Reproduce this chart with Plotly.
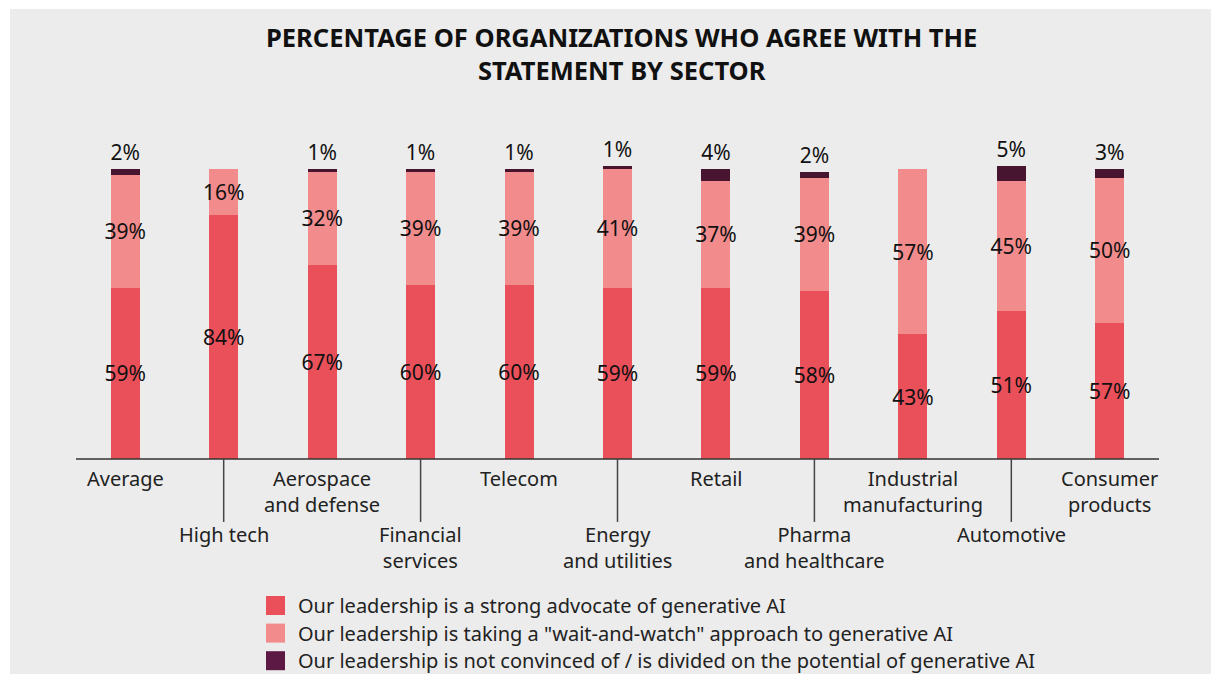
import plotly.graph_objects as go

categories = ["Average", "High tech", "Aerospace<br>and defense", "Financial<br>services",
              "Telecom", "Energy<br>and utilities", "Retail", "Pharma<br>and healthcare",
              "Industrial<br>manufacturing", "Automotive", "Consumer<br>products"]
advocate = [59, 84, 67, 60, 60, 59, 59, 58, 43, 51, 47]
advocate_labels = ["59%", "84%", "67%", "60%", "60%", "59%", "59%", "58%", "43%", "51%", "57%"]
wait_watch = [39, 16, 32, 39, 39, 41, 37, 39, 57, 45, 50]
not_convinced = [2, 0, 1, 1, 1, 1, 4, 2, 0, 5, 3]

series_names = [
    "Our leadership is a strong advocate of generative AI",
    'Our leadership is taking a "wait-and-watch" approach to generative AI',
    "Our leadership is not convinced of / is divided on the potential of generative AI",
]
bar_colors = ["#EA505A", "#F28C8C", "#47152F"]
legend_colors = ["#EA505A", "#F28C8C", "#5C1944"]

FONT = "Noto Sans"
W, H = 1211, 674
ML, MR, MT, MB = 76, 52, 140, 99
PW, PH = W - ML - MR, H - MT - MB


def px_x(p):
    return (p - ML) / PW


def px_y(p):
    return (H - MB - p) / PH


x = list(range(len(categories)))

fig = go.Figure()
fig.add_trace(go.Bar(
    x=x, y=advocate, name=series_names[0], marker_color=bar_colors[0],
    text=advocate_labels, textposition="inside", insidetextanchor="middle",
    textfont=dict(family=FONT, size=21, color="#111111"), showlegend=False,
))
fig.add_trace(go.Bar(
    x=x, y=wait_watch, name=series_names[1], marker_color=bar_colors[1],
    text=[f"{v}%" for v in wait_watch], textposition="inside", insidetextanchor="middle",
    textfont=dict(family=FONT, size=21, color="#111111"), showlegend=False,
))
fig.add_trace(go.Bar(
    x=x, y=not_convinced, name=series_names[2], marker_color=bar_colors[2],
    text=[f"{v}%" if v > 0 else "" for v in not_convinced], textposition="outside",
    textfont=dict(family=FONT, size=21, color="#111111"), showlegend=False,
))
fig.update_traces(width=0.295, marker_line_width=0, constraintext="none", cliponaxis=False,
                  textangle=0)

shapes = []
# thin white frame strips
shapes.append(dict(type="rect", xref="paper", yref="paper", x0=px_x(0), x1=px_x(10),
                   y0=px_y(H + 20), y1=px_y(0), fillcolor="white", line_width=0, layer="above"))
shapes.append(dict(type="rect", xref="paper", yref="paper", x0=px_x(0), x1=px_x(W + 20),
                   y0=px_y(9), y1=px_y(0), fillcolor="white", line_width=0, layer="above"))
# baseline
shapes.append(dict(type="line", xref="x", yref="y", x0=-0.5, x1=10.5, y0=0, y1=0,
                   line=dict(color="#333333", width=1.5), layer="above"))

annotations = []
for i, c in enumerate(categories):
    if i % 2 == 1:
        shapes.append(dict(type="line", xref="x", yref="y", x0=i, x1=i, y0=0, y1=-21.7,
                           line=dict(color="#444444", width=1.5)))
        ytop = -20.7
    else:
        ytop = -1.3
    annotations.append(dict(x=i, y=ytop, xref="x", yref="y", text=c, showarrow=False,
                            yanchor="top", xanchor="center", align="center",
                            font=dict(family=FONT, size=20, color="#222222")))

# title
annotations.append(dict(x=px_x(621), y=px_y(54), xref="paper", yref="paper",
                        text="<b>PERCENTAGE OF ORGANIZATIONS WHO AGREE WITH THE<br>STATEMENT BY SECTOR</b>",
                        showarrow=False, xanchor="center", yanchor="middle", align="center",
                        font=dict(family=FONT, size=25.5, color="#111111")))

# legend
for k, (nm, col) in enumerate(zip(series_names, legend_colors)):
    cy = 605.5 + 27.6 * k
    shapes.append(dict(type="rect", xref="paper", yref="paper", x0=px_x(266), x1=px_x(285),
                       y0=px_y(cy + 9.5), y1=px_y(cy - 9.5), fillcolor=col, line_width=0))
    annotations.append(dict(x=px_x(296), y=px_y(cy), xref="paper", yref="paper", text=nm,
                            showarrow=False, xanchor="left", yanchor="middle",
                            font=dict(family=FONT, size=20, color="#222222")))

fig.update_layout(
    width=W, height=H, barmode="stack",
    margin=dict(l=ML, r=MR, t=MT, b=MB, autoexpand=False),
    paper_bgcolor="#ECECEC", plot_bgcolor="rgba(0,0,0,0)",
    xaxis=dict(range=[-0.5, 10.5], visible=False, fixedrange=True),
    yaxis=dict(range=[-40, 110], visible=False, fixedrange=True),
    shapes=shapes, annotations=annotations, showlegend=False,
    font=dict(family=FONT),
)

fig.write_html(
    "out.html",
    config={"displayModeBar": False},
    post_script="document.body.style.margin='0px';document.body.style.overflow='hidden';",
)
